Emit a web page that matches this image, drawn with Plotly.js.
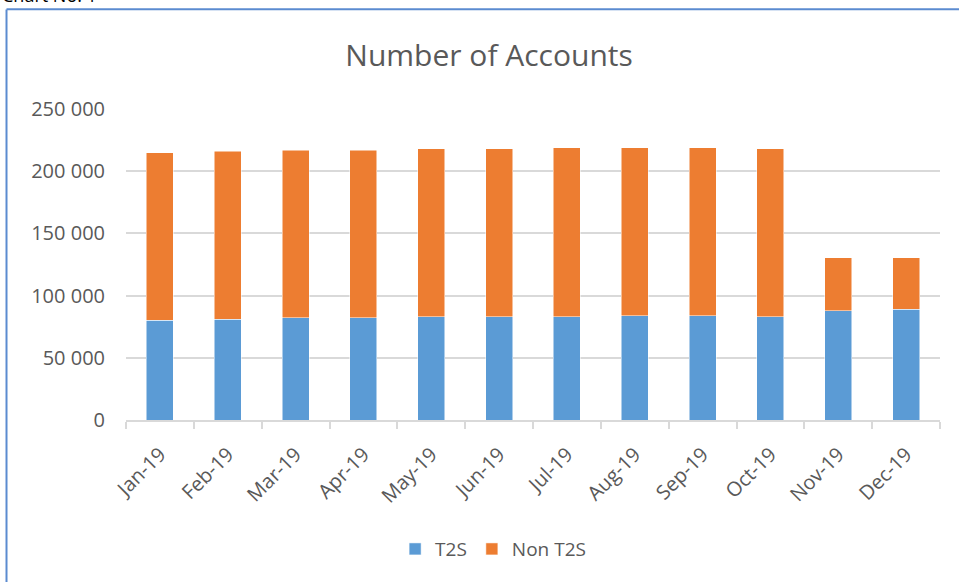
<!DOCTYPE html>
<html>
<head>
<meta charset="utf-8">
<script src="https://cdn.plot.ly/plotly-3.0.1.min.js"></script>
<style>html,body{margin:0;padding:0;background:#fff;}#chart{width:959px;height:582px;}</style>
</head>
<body>
<div id="chart"></div>
<script>
const months = ["Jan-19","Feb-19","Mar-19","Apr-19","May-19","Jun-19","Jul-19","Aug-19","Sep-19","Oct-19","Nov-19","Dec-19"];
const t2s = [80000, 81000, 82000, 82000, 83000, 83000, 83000, 84000, 84000, 83000, 88000, 89000];
const nonT2s = [135000, 135000, 135000, 135000, 135000, 135000, 136000, 135000, 135000, 135000, 42500, 41500];
const yTicks = [0, 50000, 100000, 150000, 200000, 250000];

const font = "Open Sans, Liberation Sans, sans-serif";
const grey = "#595959";

const data = [
  {type: "bar", name: "T2S", x: months, y: t2s,
   marker: {color: "#5B9BD5", line: {color: "#ffffff", width: 0.5}}},
  {type: "bar", name: "Non T2S", x: months, y: nonT2s,
   marker: {color: "#ED7D31", line: {color: "#ffffff", width: 0.5}}}
];

const layout = {
  width: 959, height: 582,
  barmode: "stack",
  bargap: 0.6,
  separators: ", ",
  paper_bgcolor: "#ffffff",
  plot_bgcolor: "#ffffff",
  margin: {l: 126, r: 19, t: 109, b: 162},
  font: {family: font, color: grey, size: 18},
  title: {text: "Number of Accounts", x: 0.51, xanchor: "center", y: 0.905, yanchor: "middle",
          font: {family: font, size: 30, color: grey}},
  xaxis: {
    type: "category",
    tickangle: -45,
    tickson: "boundaries",
    ticks: "outside", ticklen: 7, tickcolor: "#d9d9d9", tickwidth: 1.5,
    showline: true, linecolor: "#d9d9d9", linewidth: 1.5,
    showgrid: false,
    ticklabelstandoff: 13,
    tickfont: {family: font, size: 20, color: grey}
  },
  yaxis: {
    range: [0, 250000],
    tickvals: yTicks,
    tickformat: ",d",
    showgrid: true, gridcolor: "#d9d9d9", gridwidth: 1.5,
    zeroline: false, showline: false,
    ticks: "", ticklabelstandoff: 20,
    tickfont: {family: font, size: 20, color: grey}
  },
  legend: {orientation: "h", x: 0.451, xanchor: "center", y: -0.415, yanchor: "middle",
           font: {family: font, size: 19, color: grey}, itemwidth: 30, traceorder: "normal"},
  shapes: [
    {type: "line", xref: "paper", yref: "paper", x0: -0.1468, x1: -0.1468, y0: -1, y1: 1.32,
     line: {color: "#5B8BD0", width: 2}},
    {type: "line", xref: "paper", yref: "paper", x0: -0.1468, x1: 1.1, y0: 1.321, y1: 1.321,
     line: {color: "#5B8BD0", width: 2}}
  ],
  annotations: [
    {text: "Chart No. 1", xref: "paper", yref: "paper", x: -0.155, y: 1.322, xanchor: "left", yanchor: "bottom",
     showarrow: false, font: {family: font, size: 18, color: "#000"}}
  ]
};

Plotly.newPlot("chart", data, layout, {displayModeBar: false});
</script>
</body>
</html>
